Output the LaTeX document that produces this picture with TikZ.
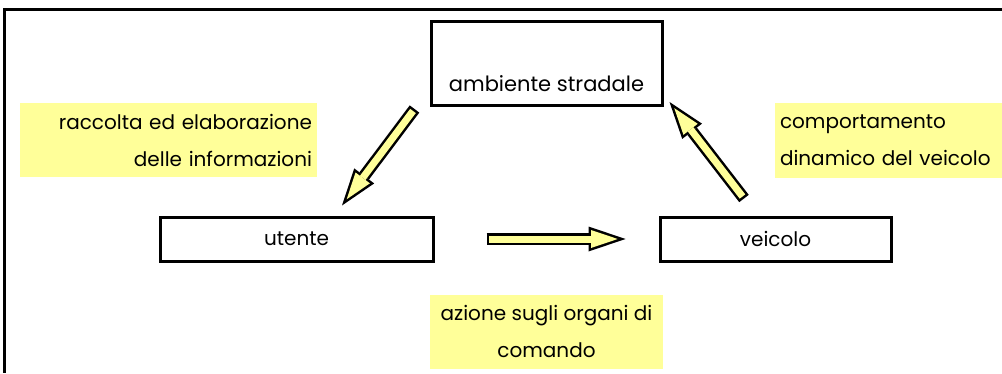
\documentclass[tikz,border=0pt]{standalone}
\usepackage{fontspec}
\setmainfont{Poppins}
\usetikzlibrary{arrows.meta,calc}
\definecolor{noteyellow}{HTML}{FFFF99}

\begin{document}
\begin{tikzpicture}[%
    x=1pt, y=1pt,               % one unit is one pixel of the original
    font=\fontsize{20}{24}\selectfont,
    ]
% -------------------------------------------------
% Box, note and arrow styles
\tikzset{
  box/.style={draw, line width=3pt, fill=white, inner sep=0pt},
  note/.style={fill=noteyellow, inner sep=5pt, minimum height=74pt,
    font=\fontsize{20}{37}\selectfont},
  % Fat yellow arrows with a black rim
  fat/.style={line width=12pt, black,
    -{Triangle[length=37pt, width=25pt, line width=0pt]},
    postaction={draw=noteyellow, line width=7pt, shorten <=2.5pt, shorten >=7.8pt,
      -{Triangle[length=26.7pt, width=18pt, line width=0pt]}}},
}
\useasboundingbox (0,0) rectangle (1002,373);
% Frame, open to the right and below
\draw[line width=3pt] (1002,363) -- (4,363) -- (4,0);
% -------------------------------------------------
% The three boxes
\node [box, minimum width=231pt, text height=70pt, text depth=14pt, font=\fontsize{21}{24}\selectfont] (amb) at (546.5,309.5) {ambiente stradale};
\node [box, minimum width=273pt, minimum height=44pt] (ute) at (296.5,134) {utente};
\node [box, minimum width=231pt, minimum height=44pt] (vei) at (775.5,134) {veicolo};
% The yellow notes
\node [note, text width=287pt, align=right] (racc) at (168.5,233) {raccolta ed elaborazione\\delle informazioni};
\node [note, text width=217pt, align=left] (comp) at (888.5,232.5) {comportamento\\dinamico del veicolo};
\node [note, minimum width=233pt, align=center] (azio) at (546.5,41.5) {azione sugli organi di\\comando};
% -------------------------------------------------
% Arrows between the boxes
\draw [fat] ($(amb.south west)+(-15,-2)$) -- ($(ute.north)+(45.5,10)$);
\draw [fat] ($(ute.east)+(52,0)$) -- ($(vei.west)+(-33,0)$);
\draw [fat] ($(vei.north)+(-31.5,17)$) -- ($(amb.south east)+(6,5)$);
% -------------------------------------------------
\end{tikzpicture}
\end{document}
